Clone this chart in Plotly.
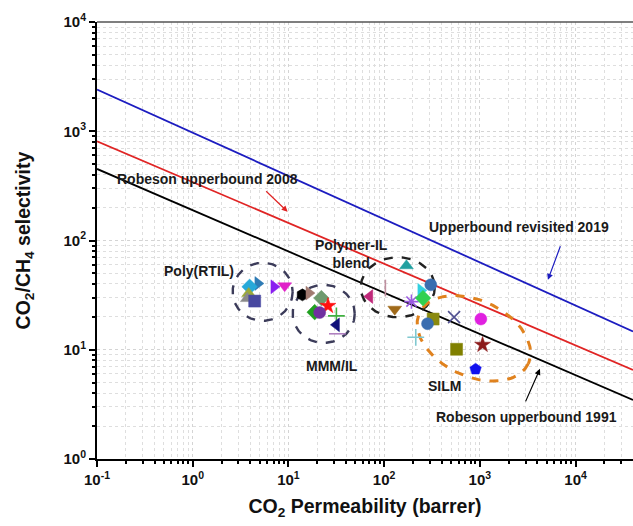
import numpy as np
import plotly.graph_objects as go

# ---------------- data ----------------
x_tick_vals = [0.1, 1, 10, 100, 1000, 10000]
x_tick_text = ["10<sup>-1</sup>", "10<sup>0</sup>", "10<sup>1</sup>", "10<sup>2</sup>", "10<sup>3</sup>", "10<sup>4</sup>"]
y_tick_vals = [1, 10, 100, 1000, 10000]
y_tick_text = ["10<sup>0</sup>", "10<sup>1</sup>", "10<sup>2</sup>", "10<sup>3</sup>", "10<sup>4</sup>"]

bound_perm = [0.1, 39810]
robeson_1991 = [452, 3.47]
robeson_2008 = [809, 6.54]
revisited_2019 = [2407, 14.7]

rtil_perm = [4.80, 3.93, 3.84, 3.72, 4.44, 7.06, 9.14]
rtil_sel = [40.4, 37.7, 32.7, 29.4, 27.9, 37.7, 38.5]

mmm_perm = [14.0, 16.4, 22.1, 25.9, 18.8, 21.2, 31.7, 31.7, 32.5]
mmm_sel = [31.8, 33.0, 29.7, 25.2, 22.1, 21.9, 20.4, 16.9, 14.0]

blend_perm = [171, 103, 70.7, 129, 193, 242, 255, 307]
blend_sel = [58.7, 36.7, 30.7, 23.5, 27.6, 34.9, 29.7, 39.3]

silm_perm = [325, 284, 214, 538, 1025, 571, 1067, 902]
silm_sel = [19.1, 17.3, 13.0, 19.9, 19.1, 10.1, 11.1, 6.64]

# ---------------- styles ----------------
rtil_style = dict(
    colors=["#2e7bb5", "#27a9d9", "#9aa83a", "#8a8a8a", "#4848a0", "#8a1ff0", "#e020c8"],
    symbols=["triangle-right", "diamond", "triangle-up", "triangle-up", "square", "triangle-right", "triangle-down"],
)
mmm_style = dict(
    colors=["#000000", "#a07a70", "#6e9a6e", "#ff1010", "#20a020", "#7030a0", "#40b040", "#10107a", "#b080c0"],
    symbols=["hexagon", "triangle-right", "diamond", "star", "diamond", "circle", "cross-thin", "triangle-left", "line-ew"],
)
blend_style = dict(
    colors=["#20a0a0", "#c090a0", "#c0287a", "#a06a1a", "#9a5ae0", "#30d0e0", "#30d050", "#3a6eb0"],
    symbols=["triangle-up", "line-ns", "triangle-left", "triangle-down", "asterisk", "triangle-right", "diamond", "circle"],
)
silm_style = dict(
    colors=["#8a8a10", "#3a6eb0", "#80c8d0", "#505090", "#e020e0", "#808000", "#8b1a1a", "#1010ee"],
    symbols=["square", "circle", "cross-thin", "x-thin", "circle", "square", "star", "pentagon"],
)

FONT = "Liberation Sans, Arial, sans-serif"
PX_PER_DEC_X = 95.7
PX_PER_DEC_Y = 109.25

fig = go.Figure()

# upper bound lines
for yv, col in [(robeson_1991, "#000000"), (robeson_2008, "#e02424"), (revisited_2019, "#1c1cc0")]:
    fig.add_trace(go.Scatter(x=bound_perm, y=yv, mode="lines", line=dict(color=col, width=1.8),
                             hoverinfo="skip", showlegend=False))

# dashed region ellipses (decorations): centre in log units, semi-axes in px, rotation deg
ellipses = [
    (0.7307, 1.5304, 30, 29, 0, "#3c3c5a", 2.4),
    (1.3686, 1.3288, 31, 29, 0, "#3c3c5a", 2.4),
    (2.1425, 1.5716, 37, 30, 0, "#222222", 2.4),
    (2.9373, 1.1043, 60, 38, 25, "#e0821e", 3.0),
]
t = np.linspace(0, 2 * np.pi, 200)
for cx, cy, a, b, th, col, w in ellipses:
    r = np.deg2rad(th)
    dx = a * np.cos(t) * np.cos(r) - b * np.sin(t) * np.sin(r)
    dy = a * np.cos(t) * np.sin(r) + b * np.sin(t) * np.cos(r)
    fig.add_trace(go.Scatter(x=10 ** (cx + dx / PX_PER_DEC_X), y=10 ** (cy - dy / PX_PER_DEC_Y),
                             mode="lines", line=dict(color=col, width=w, dash="dash"),
                             hoverinfo="skip", showlegend=False))

# data points
thin = {"cross-thin", "x-thin", "line-ew", "line-ns", "asterisk"}
for px_, sel, st in [(rtil_perm, rtil_sel, rtil_style), (mmm_perm, mmm_sel, mmm_style),
                     (blend_perm, blend_sel, blend_style), (silm_perm, silm_sel, silm_style)]:
    syms = [s + "-open" if s == "asterisk" else s for s in st["symbols"]]
    widths = [1.6 if s in thin else 0.5 for s in st["symbols"]]
    fig.add_trace(go.Scatter(
        x=px_, y=sel, mode="markers",
        marker=dict(color=st["colors"], symbol=syms, size=12,
                    line=dict(color=st["colors"], width=widths)),
        showlegend=False))

# annotations
ann_font = dict(family=FONT, size=14, color="#1a1a1a", weight="bold")
texts = [
    ("Robeson upperbound 2008", 0.1556, 2.566),
    ("Upperbound revisited 2019", 3.408, 2.126),
    ("Polymer-IL<br>blend", 1.661, 1.879),
    ("Poly(RTIL)", 0.0614, 1.723),
    ("MMM/IL", 1.452, 0.852),
    ("SILM", 2.634, 0.669),
    ("Robeson upperbound 1991", 3.491, 0.385),
]
for txt, x, y in texts:
    fig.add_annotation(x=x, y=y, text=txt, showarrow=False, font=ann_font, xref="x", yref="y")

arrows = [
    (0.992, 2.263, -23, -22, "#e02424"),
    (3.711, 1.640, 13, -35, "#1c1cc0"),
    (3.628, 0.825, -15, 34, "#000000"),
]
for x, y, ax, ay, col in arrows:
    fig.add_annotation(x=x, y=y, ax=ax, ay=ay, text="", showarrow=True, arrowhead=2,
                       arrowsize=1, arrowwidth=1.2, arrowcolor=col, xref="x", yref="y")

minor_x = [m * 10.0 ** e for e in range(-1, 5) for m in range(2, 10)]
minor_y = [m * 10.0 ** e for e in range(0, 4) for m in range(2, 10)]

axis_common = dict(
    type="log", showline=True, linecolor="#000000", linewidth=2,
    ticks="outside", ticklen=6, tickwidth=1.5, tickcolor="#000000",
    showgrid=True, gridcolor="#d4d4d4", griddash="dot", gridwidth=1,
    zeroline=False,
    tickfont=dict(family=FONT, size=15, color="#111111", weight="bold"),
)

fig.update_layout(
    width=633, height=526,
    margin=dict(l=97, r=0, t=22, b=67),
    paper_bgcolor="white", plot_bgcolor="white",
    xaxis=dict(axis_common, range=[-1, 4.6], tickvals=x_tick_vals, ticktext=x_tick_text,
               minor=dict(tickvals=minor_x, ticks="outside", ticklen=3, tickcolor="#000000",
                          showgrid=True, gridcolor="#dedede", griddash="dot"),
               title=dict(text="CO<sub>2</sub> Permeability (barrer)", standoff=12,
                          font=dict(family=FONT, size=19.5, color="#111111", weight="bold"))),
    yaxis=dict(axis_common, range=[0, 4], tickvals=y_tick_vals, ticktext=y_tick_text,
               minor=dict(tickvals=minor_y, ticks="outside", ticklen=3, tickcolor="#000000",
                          showgrid=True, gridcolor="#dedede", griddash="dot"),
               title=dict(text="CO<sub>2</sub>/CH<sub>4</sub> selectivity", standoff=28,
                          font=dict(family=FONT, size=19.5, color="#111111", weight="bold"))),
    shapes=[dict(type="line", xref="paper", yref="paper", x0=0, x1=1, y0=1, y1=1,
                 line=dict(color="#555555", width=1.5))],
)

fig.write_html("out.html")
